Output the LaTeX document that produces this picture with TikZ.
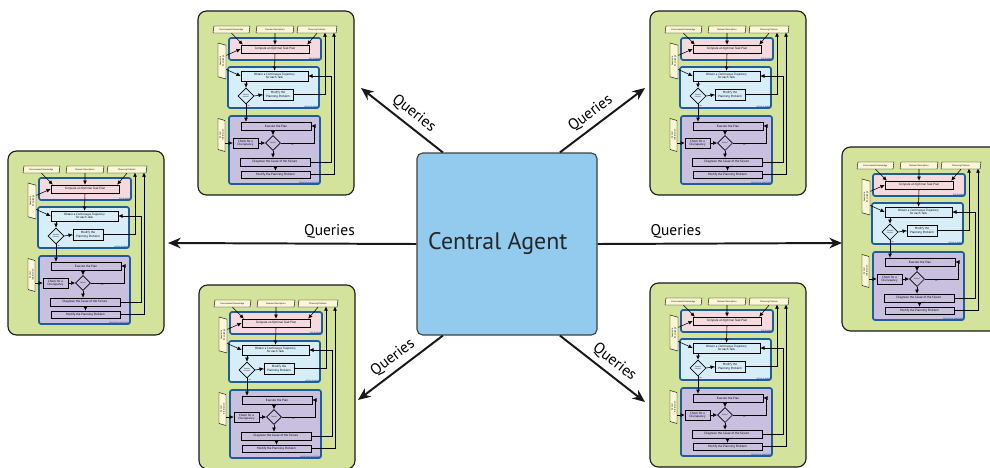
\documentclass[tikz,border=0pt]{standalone}
\usepackage{fontspec}
\setmainfont{PT Sans}
\usetikzlibrary{shapes, arrows.meta}
\newcommand{\upx}{0.025cm}
\newcommand{\diminuto}{\fontsize{2.2}{2.5}\selectfont}
\newcommand{\minimo}{\fontsize{1.6}{1.9}\selectfont}
\newcommand{\micro}{\fontsize{1.2}{1.4}\selectfont}
\definecolor{verdepanel}{HTML}{D3E39C}
\definecolor{azulagente}{HTML}{93CBEE}
\definecolor{rosatarea}{HTML}{F4D9DE}
\definecolor{celestemov}{HTML}{D7EEF8}
\definecolor{lilaejec}{HTML}{C9C0E0}
\definecolor{bordegrupo}{HTML}{1F5C9C}
\definecolor{amarilloent}{HTML}{FBF7D6}
\tikzstyle{panel} = [draw=black!90, fill=verdepanel, line width=0.8pt, rounded corners=6pt, minimum width=156*\upx, minimum height=184*\upx, inner sep=0pt]
\tikzstyle{grupo} = [draw=bordegrupo, line width=1.2pt, rounded corners=1.5pt, inner sep=0pt]
\tikzstyle{paso} = [draw=black, line width=0.4pt, inner sep=0pt, font=\diminuto, align=center]
\tikzstyle{entrada} = [draw=black, line width=0.3pt, fill=amarilloent, trapezium, trapezium left angle=65, trapezium right angle=115, trapezium stretches body, inner sep=0pt, font=\minimo, align=center]
\tikzstyle{decision} = [draw=black, line width=0.4pt, diamond, aspect=1, inner sep=0pt, font=\micro, align=center]
\tikzstyle{flujo} = [line width=0.4pt, -{Latex[length=3pt,width=2.8pt]}]
\tikzstyle{etiquetagrupo} = [font=\micro\bfseries, text=bordegrupo, inner sep=0.6pt, anchor=south east]
\tikzstyle{rama} = [font=\micro, inner sep=0.4pt]
\tikzstyle{agente} = [draw=black!75, fill=azulagente, line width=0.8pt, rounded corners=4pt, minimum width=180*\upx, minimum height=182*\upx, font=\fontsize{17}{20}\selectfont, text=black!85]
\tikzstyle{consulta} = [line width=1.4pt, draw=black!90, -{Stealth[length=9pt,width=7.5pt]}]

\tikzset{
  planner/.pic={
    \node[panel] (-panel) at (78,92) {};
    % bloques de planificacion
    \node[grupo, fill=rosatarea, minimum width=92*\upx, minimum height=22*\upx] (-gtarea) at (77,38) {};
    \node[grupo, fill=celestemov, minimum width=91*\upx, minimum height=41*\upx] (-gmov) at (75.5,76.5) {};
    \node[grupo, fill=lilaejec, minimum width=91*\upx, minimum height=68*\upx] (-gejec) at (76.5,139) {};
    \node[etiquetagrupo] at (-gtarea.south east) {TASK PLANNING};
    \node[etiquetagrupo] at (-gmov.south east) {MOTION PLANNING};
    \node[etiquetagrupo] at (-gejec.south east) {EXECUTION \& MONITORING};
    % entradas
    \node[entrada, minimum width=37*\upx, minimum height=7*\upx] (-conoc) at (33.5,18.5) {Environment Knowledge};
    \node[entrada, minimum width=38*\upx, minimum height=7*\upx] (-dominio) at (77,18.5) {Domain Description};
    \node[entrada, minimum width=40*\upx, minimum height=7*\upx] (-problema) at (119,18.5) {Planning Problem};
    \node[entrada, rotate=90, minimum width=36*\upx, minimum height=8*\upx] (-geom) at (24,50) {Geometric\\Knowledge};
    \node[entrada, rotate=90, minimum width=33*\upx, minimum height=7*\upx] (-sensor) at (23.5,124) {Sensor\\Information};
    % pasos
    \node[paso, minimum width=68*\upx, minimum height=8*\upx] (-plan) at (77,38) {Compute an Optimal Task Plan};
    \node[paso, minimum width=67*\upx, minimum height=10*\upx] (-tray) at (76.5,65) {Obtain a Continuous Trajectory\\for each Task};
    \node[decision, minimum size=16*\upx] (-factible) at (48,85) {Feasible\\Solution?};
    \node[paso, minimum width=30*\upx, minimum height=11*\upx] (-modif) at (80,83.5) {Modify the\\Planning Problem};
    \node[paso, minimum width=70*\upx, minimum height=8*\upx] (-ejec) at (78,115) {Execute the Plan};
    \node[decision, minimum size=15*\upx] (-fallo) at (75,132) {Failure?};
    \node[paso, minimum width=25*\upx, minimum height=10*\upx] (-revisar) at (47.5,132) {Check for a\\Discrepancy};
    \node[paso, minimum width=70*\upx, minimum height=8*\upx] (-diag) at (77,151) {Diagnose the Cause of the Failure};
    \node[paso, minimum width=69*\upx, minimum height=7*\upx] (-modif2) at (77.5,163.5) {Modify the Planning Problem};
    \coordinate (-sube1) at (127,21.5);
    \coordinate (-sube2) at (136,21.5);
    \coordinate (-vuelta) at (133,65);
    \coordinate (-bucle) at (116,132);
    % conexiones
    \draw[flujo] (-conoc.south) -- ([xshift=1.5pt]-plan.north west);
    \draw[flujo] (-dominio.south) -- (-plan.north);
    \draw[flujo] (-problema.south) -- ([xshift=-1.5pt]-plan.north east);
    \draw[flujo] ([yshift=4pt]-geom.south) -- (-plan.west);
    \draw[flujo] ([yshift=-6pt]-geom.south) -- (-tray.west);
    \draw[flujo] (-plan.south) -- (-tray.north);
    \draw[flujo] (-tray.south -| -factible.north) -- (-factible.north);
    \draw[flujo] (-factible.east) -- node[rama, below=0.3pt] {No} (-modif.west);
    \draw[flujo] (-modif.east) -| (-sube1);
    \draw[flujo] (-factible.south) -- node[rama, pos=0.12, right=0.5pt] {Yes} (-factible.south |- -ejec.north);
    \draw[flujo] (-fallo.east) -- node[rama, pos=0.35, below=0.3pt] {No} (-bucle) |- (-ejec.east);
    \draw[flujo] (-ejec.south -| -fallo.north) -- (-fallo.north);
    \draw[flujo] (-sensor.south |- -revisar.west) -- (-revisar.west);
    \draw[flujo] (-revisar.east) -- (-fallo.west);
    \draw[flujo] (-fallo.south) -- (-fallo.south |- -diag.north);
    \draw[flujo] (-diag.east) -| (-vuelta) -- (-tray.east);
    \draw[flujo] (-diag.south -| -modif2.north) -- (-modif2.north);
    \draw[flujo] (-modif2.east) -| (-sube2);
  }
}

\begin{document}
\begin{tikzpicture}[x=\upx, y=-\upx]
\useasboundingbox (0,0) rectangle (990,467);

% agentes con su planificador
\pic (tl) at (198,11) {planner};
\pic (tr) at (650,11) {planner};
\pic (ml) at (8,151) {planner};
\pic (mr) at (842,147) {planner};
\pic (bl) at (199,285) {planner};
\pic (br) at (650,283) {planner};

\node[agente] (agent) at (507,244) {Central Agent\hspace*{13pt}};

\coordinate (qtl) at (361,88);
\coordinate (qtr) at (645,88);
\coordinate (qml) at (168,243);
\coordinate (qmr) at (842,243);
\coordinate (qbl) at (358,400);
\coordinate (qbr) at (645,402);

\draw[consulta] (agent.125) -- node[pos=0.45, sloped, above, font=\fontsize{11}{13}\selectfont] {Queries} (qtl);
\draw[consulta] (agent.60) -- node[pos=0.45, sloped, above, font=\fontsize{11}{13}\selectfont] {Queries} (qtr);
\draw[consulta] (agent.west) -- node[pos=0.35, above, font=\fontsize{11}{13}\selectfont] {Queries} (qml);
\draw[consulta] (agent.east) -- node[pos=0.32, above, font=\fontsize{11}{13}\selectfont] {Queries} (qmr);
\draw[consulta] (agent.235) -- node[pos=0.5, sloped, above, font=\fontsize{11}{13}\selectfont] {Queries} (qbl);
\draw[consulta] (agent.300) -- node[pos=0.55, sloped, above, font=\fontsize{11}{13}\selectfont] {Queries} (qbr);
\end{tikzpicture}
\end{document}
